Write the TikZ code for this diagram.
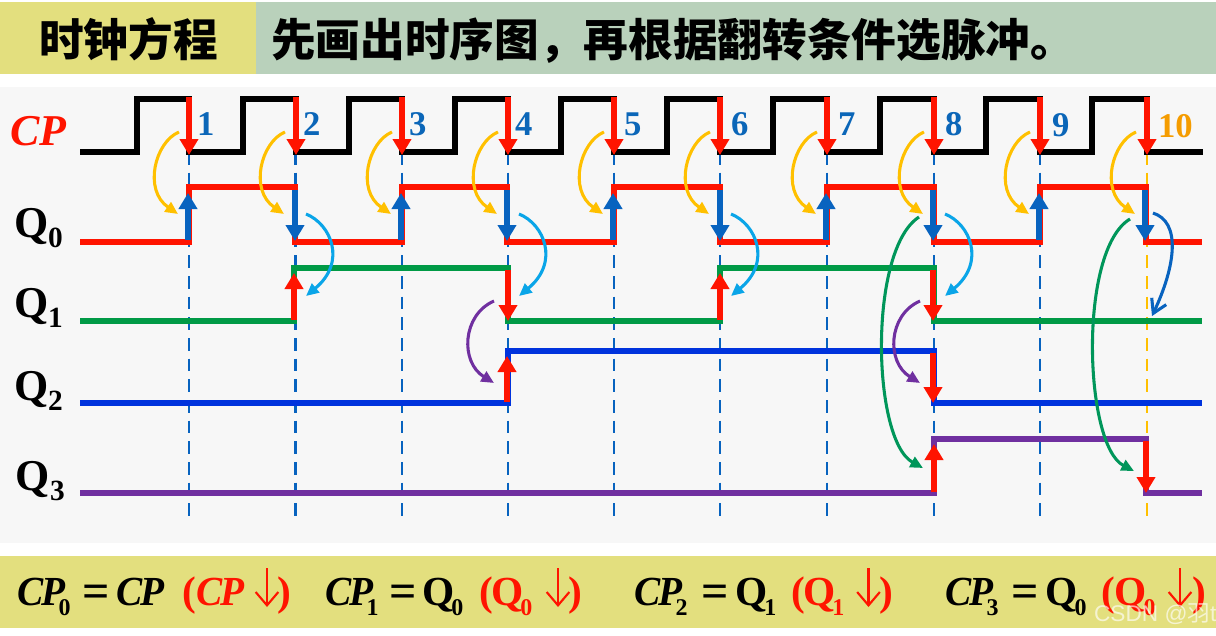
\documentclass[tikz,border=0pt]{standalone}
\usepackage{fontspec}
\setmainfont{Liberation Serif}
\newfontfamily\cjk{Noto Sans CJK SC}
\newfontfamily\narrow[FakeStretch=0.95]{Liberation Serif}
\newfontfamily\sansw{Liberation Sans}
\usetikzlibrary{arrows.meta}
\definecolor{hdY}{HTML}{E3DF7E}
\definecolor{hdG}{HTML}{B9D1BB}
\definecolor{panel}{HTML}{F7F7F7}
\definecolor{rd}{HTML}{FF1400}
\definecolor{gn}{HTML}{009A46}
\definecolor{bl}{HTML}{0033DD}
\definecolor{pu}{HTML}{7030A0}
\definecolor{ab}{HTML}{0863BF}
\definecolor{og}{HTML}{FFC000}
\definecolor{num}{HTML}{0B66B8}
\definecolor{ten}{HTML}{F59C00}
\definecolor{lb}{HTML}{0AA5E8}
\definecolor{cg}{HTML}{00965A}
\newcommand{\fz}[1]{\fontsize{#1}{#1}\selectfont}
\newcommand{\BQ}[1]{{\bfseries\fz{33}Q\raisebox{-8pt}{\fz{22}#1}}}
\newcommand{\FQ}[1]{{\bfseries\fz{31}Q\kern-2pt\raisebox{-8pt}{\fz{18}#1}}}
\newcommand{\FCP}{{\narrow\bfseries\itshape\fz{31}C\kern-1.5pt P}}
\newcommand{\FCS}[1]{\FCP\kern-5pt\raisebox{-8pt}{\bfseries\fz{18}#1}}
\tikzset{
  wave/.style={line width=3.9pt,line cap=butt,line join=miter},
  guide/.style={line width=2.1pt,ab,dash pattern=on 9.5pt off 6pt},
  rarrow/.style={line width=4.5pt,rd,-{Triangle[length=12pt,width=13.5pt]}},
  barrow/.style={line width=4.5pt,ab,-{Triangle[length=12pt,width=13.5pt]}},
  curve/.style={line width=2.3pt,-{Triangle[length=9.5pt,width=8.5pt]}},
  txt/.style={inner sep=0pt,outer sep=0pt,anchor=base west},
  numlab/.style={txt,font=\bfseries\fz{26},text=num},
  parlab/.style={txt,text=rd,font=\bfseries\fz{31}},
  eqlab/.style={txt,font=\bfseries\fz{36}},
}
\begin{document}
\begin{tikzpicture}[x=0.75pt,y=-0.75pt]
\useasboundingbox (0,0) rectangle (1216,635);
\fill[white] (0,0) rectangle (1216,635);
\fill[hdY] (0,2) rectangle (256,74);
\fill[hdG] (256,2) rectangle (1216,74);
\fill[panel] (0,87) rectangle (1216,543);
\fill[hdY] (0,556) rectangle (1216,628);
% header
\node[txt] (t1) at (39,57) {\cjk\bfseries\fz{33.5}时钟方程};
\node[txt] (t2) at (271,57) {\cjk\bfseries\fz{33.5}先画出时序图，再根据翻转条件选脉冲。};
% edges
\foreach \n/\x in {1/189,2/295.5,3/402,4/508,5/614,6/720,7/827,8/934,9/1040,10/1147}
  \coordinate (e\n) at (\x,0);
% guides
\foreach \n in {1,...,9} \draw[guide] (e\n |- 0,152) -- (e\n |- 0,518);
\draw[guide,og] (e10 |- 0,152) -- (e10 |- 0,518);
% waves
\draw[wave,black] (80,152) -- (137,152) -- (137,99)
  -- (189,99) -- (189,152) -- (243,152) -- (243,99)
  -- (296,99) -- (296,152) -- (349,152) -- (349,99)
  -- (402,99) -- (402,152) -- (455,152) -- (455,99)
  -- (508,99) -- (508,152) -- (561,152) -- (561,99)
  -- (614,99) -- (614,152) -- (667,152) -- (667,99)
  -- (720,99) -- (720,152) -- (773,152) -- (773,99)
  -- (827,99) -- (827,152) -- (880,152) -- (880,99)
  -- (934,99) -- (934,152) -- (986,152) -- (986,99)
  -- (1040,99) -- (1040,152) -- (1092,152) -- (1092,99)
  -- (1147,99) -- (1147,152) -- (1203,152);
\draw[wave,rd] (80,242) -- (189,242) -- (189,187) -- (295,187) -- (295,242)
  -- (402,242) -- (402,187) -- (507,187) -- (507,242)
  -- (614,242) -- (614,187) -- (720,187) -- (720,242)
  -- (827,242) -- (827,187) -- (934,187) -- (934,242)
  -- (1040,242) -- (1040,187) -- (1146,187) -- (1146,242) -- (1202,242);
\draw[wave,gn] (80,321) -- (294,321) -- (294,268) -- (508,268) -- (508,321)
  -- (720,321) -- (720,268) -- (934,268) -- (934,321) -- (1202,321);
\draw[wave,bl] (80,403) -- (508,403) -- (508,351) -- (934,351) -- (934,403) -- (1202,403);
\draw[wave,pu] (80,493) -- (934,493) -- (934,439) -- (1146,439) -- (1146,493) -- (1202,493);
% CP falling arrows
\foreach \n/\x in {1/189,2/296,3/402,4/508,5/614,6/720,7/827,8/934,9/1040,10/1147}
  \draw[rarrow] (\x,97) -- (\x,155);
% Q0 arrows
\foreach \x in {189,402,614,827,1040} \draw[barrow] (\x-1,240) -- (\x-1,193);
\foreach \x in {295,507,720,933,1145} \draw[barrow] (\x,190) -- (\x,241);
% Q1..Q3 arrows
\foreach \x in {294,720} \draw[rarrow] (\x,320) -- (\x,273);
\foreach \x in {508,933} \draw[rarrow] (\x,270) -- (\x,321);
\draw[rarrow] (507,402) -- (507,356);
\draw[rarrow] (933,353) -- (933,403);
\draw[rarrow] (934,492) -- (934,444);
\draw[rarrow] (1146,441) -- (1146,493);
% orange curves
\foreach \x in {189,295,402,508,614,720,827,934,1040,1146}
  \draw[curve,og] (\x-10,132) .. controls (\x-34,142) and (\x-46,190) .. (\x-11,214);
% light blue curves
\foreach \x in {295,508,720,934}
  \draw[curve,lb] (\x+11,214) .. controls (\x+36,224) and (\x+52,262) .. (\x+11,296);
% dark blue curve
\draw[line width=2.3pt,ab,-{Straight Barb[length=10pt,width=12pt]}] (1153,213) .. controls (1181,222) and (1176,265) .. (1152,316);
% purple curves
\foreach \x in {494,920}
  \draw[curve,pu] (\x,301) .. controls (\x-32,315) and (\x-34,362) .. (\x,383);
% green curves
\draw[curve,cg] (919,217) .. controls (868,250) and (872,440) .. (923,468);
\draw[curve,cg] (1130,219) .. controls (1078,250) and (1084,445) .. (1134,471);
% signal labels
\node[txt,text=rd,font=\bfseries\itshape\fz{33}] (cp) at (10,145) {CP};
\node[txt] (q0) at (14,237) {\BQ{0}};
\node[txt] (q1) at (14,317) {\BQ{1}};
\node[txt] (q2) at (14,400) {\BQ{2}};
\node[txt] (q3) at (16,490) {\BQ{3}};
% numbers
\node[numlab] (n1) at (197,135) {1};
\node[numlab] (n2) at (303,135) {2};
\node[numlab] (n3) at (409,135) {3};
\node[numlab] (n4) at (515,135) {4};
\node[numlab] (n5) at (624,135) {5};
\node[numlab] (n6) at (731,135) {6};
\node[numlab] (n7) at (838,135) {7};
\node[numlab] (n8) at (945,135) {8};
\node[numlab] (n9) at (1052,136) {9};
\node[numlab,text=ten] (n10) at (1158,137) {10};
% bottom formulas
\node[txt] (f1) at (17,605) {\FCS{0}};
\node[eqlab] (f1e) at (82,607) {=};
\node[txt] (f1r) at (116,605) {\FCP};
\node[parlab] (f1p) at (182,605) {(};
\node[txt,text=rd] (f1c) at (196,605) {\FCP};
\node[parlab] (f1q) at (277,605) {)};
\node[txt] (f2) at (325,605) {\FCS{1}};
\node[eqlab] (f2e) at (389,607) {=};
\node[txt] (f2r) at (422,605) {\FQ{0}};
\node[parlab] (f2p) at (479,605) {(};
\node[txt,text=rd] (f2c) at (491,605) {\FQ{0}};
\node[parlab] (f2q) at (568,605) {)};
\node[txt] (f3) at (634,605) {\FCS{2}};
\node[eqlab] (f3e) at (701,607) {=};
\node[txt] (f3r) at (735,605) {\FQ{1}};
\node[parlab] (f3p) at (791,605) {(};
\node[txt,text=rd] (f3c) at (803,605) {\FQ{1}};
\node[parlab] (f3q) at (879,605) {)};
\node[txt] (f4) at (945,605) {\FCS{3}};
\node[eqlab] (f4e) at (1011,607) {=};
\node[txt] (f4r) at (1045,605) {\FQ{0}};
\node[parlab] (f4p) at (1101,605) {(};
\node[txt,text=rd] (f4c) at (1114,605) {\FQ{0}};
\node[parlab] (f4q) at (1192,605) {)};
% thin down arrows
\foreach \x in {267,558,868.500,1180}
  \draw[rd,line width=1.6pt,-{Straight Barb[length=10pt,width=17pt]}] (\x,568) -- (\x,607);
% watermark
\node[txt,text=white,opacity=.65,font=\sansw\fz{17}] (wm) at (1094,621) {CSDN @{\cjk 羽}t};
\end{tikzpicture}
\end{document}
